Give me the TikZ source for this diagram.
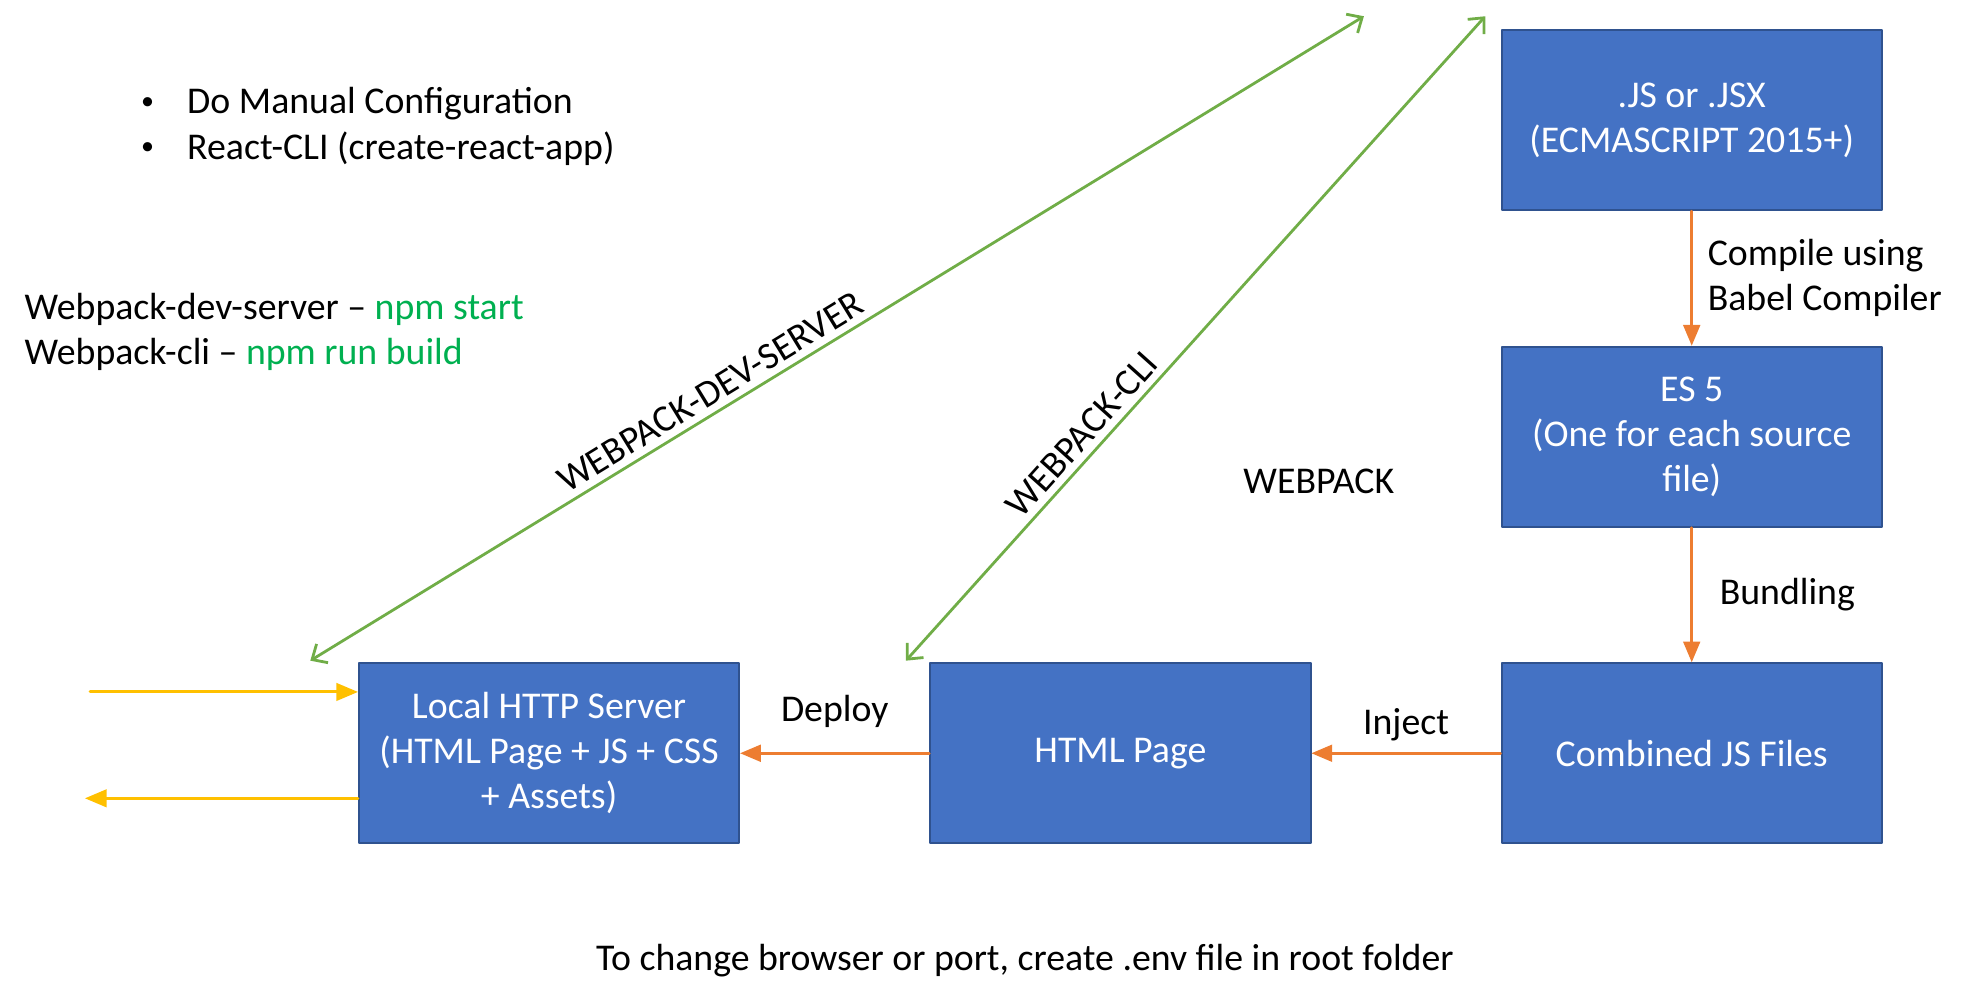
\documentclass[tikz,border=0pt]{standalone}
\usepackage{fontspec}
\setmainfont{Carlito}
\usetikzlibrary{arrows,arrows.meta}
\usetikzlibrary{positioning}
\definecolor{boxblue}{HTML}{4472C4}
\definecolor{boxedge}{HTML}{2F528F}
\definecolor{flow}{HTML}{ED7D31}
\definecolor{wpgreen}{HTML}{70AD47}
\definecolor{reqyellow}{HTML}{FFC000}
\definecolor{npmgreen}{HTML}{00B050}
\newcommand{\txtsize}{\fontsize{18.9pt}{22.5pt}\selectfont}

\begin{document}
\begin{tikzpicture}[x=0.6257pt,y=-0.6257pt,line cap=round,line join=round,>=triangle 45,
  every node/.style={font=\txtsize},
  bluebox/.style={draw=boxedge,line width=1pt,fill=boxblue,text=white,align=center,minimum width=190.2pt,minimum height=90.1pt,inner sep=2pt},
  flowline/.style={->,draw=flow,line width=1.4pt},
  reqline/.style={->,draw=reqyellow,line width=1.5pt},
  cmdline/.style={{Straight Barb[length=6pt,width=11pt]}-{Straight Barb[length=6pt,width=11pt]},draw=wpgreen,line width=1.4pt},
  bulletmark/.style={font=\fontsize{13pt}{15pt}\selectfont},
  node distance=67.2pt and 94.5pt]
\useasboundingbox (0,0) rectangle (1568,804);
% the build chain
\node[bluebox] (jsx) at (1352,96) {.JS or .JSX\\(ECMASCRIPT 2015+)};
\node[bluebox,below=of jsx] (es5) {ES 5\\(One for each source\\file)};
\node[bluebox,below=of es5] (bundle) {Combined JS Files};
\node[bluebox,left=of bundle] (html) {HTML Page};
\node[bluebox,left=of html] (server) {Local HTTP Server\\(HTML Page + JS + CSS\\+ Assets)};
\draw[flowline] (jsx) -- node[right,align=left,xshift=4pt] (babel) {Compile using\\Babel Compiler} (es5);
\draw[flowline] (es5) -- node[right,xshift=10pt] (bundling) {Bundling} (bundle);
\draw[flowline] (bundle) -- node[above,yshift=2pt] (inject) {Inject} (html);
\draw[flowline] (html) -- node[above,yshift=9pt] (deploy) {Deploy} (server);
% browser side
\coordinate (reqin) at (72,553);
\coordinate (resout) at (68,638);
\draw[reqline] (reqin) -- (reqin -| server.west);
\draw[reqline] (resout -| server.west) -- (resout);
% webpack commands
\coordinate (devstart) at (248,528);
\coordinate (devend) at (1090,13);
\draw[cmdline] (devstart) -- node[pos=0.39,sloped,above] (devlabel) {WEBPACK-DEV-SERVER} (devend);
\coordinate (clistart) at (724,528);
\coordinate (cliend) at (1187,13);
\draw[cmdline] (clistart) -- node[pos=0.33,sloped,above] (clilabel) {WEBPACK-CLI} (cliend);
\node (wplabel) at (1054,385) {WEBPACK};
% notes
\node[bulletmark] (bul1) at (118,83) {•};
\node[anchor=west] (manual) at (144,83) {Do Manual Configuration};
\node[bulletmark] (bul2) at (118,119) {•};
\node[anchor=west] (reactcli) at (144,119) {React-CLI (create-react-app)};
\node[anchor=west] (devcmd) at (14,247) {Webpack-dev-server – \textcolor{npmgreen}{npm start}};
\node[anchor=west] (clicmd) at (14,283) {Webpack-cli – \textcolor{npmgreen}{npm run build}};
\node (envnote) at (819,768) {To change browser or port, create .env file in root folder};
\end{tikzpicture}
\end{document}
